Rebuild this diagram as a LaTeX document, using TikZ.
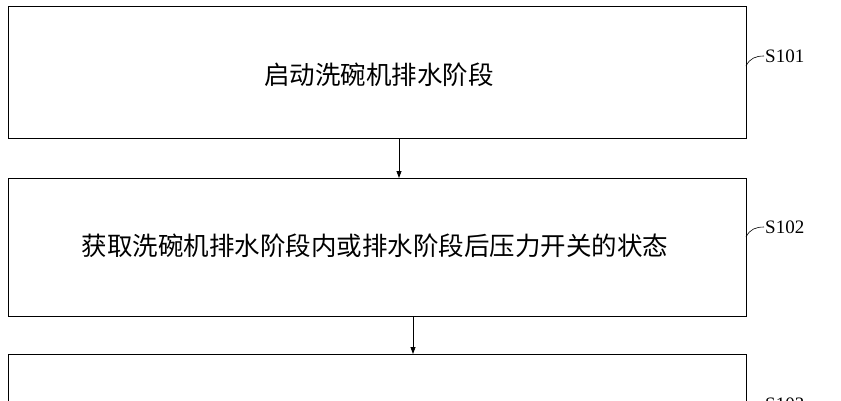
\documentclass[tikz,border=0pt]{standalone}
\usepackage{fontspec}
\setmainfont{Liberation Serif}
\newfontfamily\cjk{Noto Sans CJK SC}
\usetikzlibrary{arrows.meta}
\begin{document}
\begin{tikzpicture}[x=1pt,y=1pt,
  box/.style={draw,line width=0.8pt,minimum width=738pt,anchor=north west,inner sep=0},
  txt/.style={font=\cjk\fontsize{25.5}{29}\selectfont},
  lab/.style={font=\fontsize{19}{21}\selectfont,anchor=west,inner sep=1pt},
  arr/.style={-{Triangle[length=7pt,width=5pt]},line width=0.8pt}]
\useasboundingbox (0,0) rectangle (841,-400);
\clip (0,0) rectangle (841,-400);
\node[box,minimum height=132pt] (b1) at (8,-6) {};
\node[box,minimum height=138pt] (b2) at (8,-178) {};
\node[box,minimum height=80pt] (b3) at (8,-354) {};
\node[txt] (t1) at (379,-75) {启动洗碗机排水阶段};
\node[txt] (t2) at (375,-246) {获取洗碗机排水阶段内或排水阶段后压力开关的状态};
\draw[arr] (b1.south -| 399,0) -- (b2.north -| 399,0);
\draw[arr] (b2.south -| 413,0) -- (b3.north -| 413,0);
\node[lab] (s1) at (764,-56) {S101};
\node[lab] (s2) at (764,-227) {S102};
\node[lab] (s3) at (764,-404) {S103};
\draw[line width=0.6pt] (746,-66) .. controls (750,-58) and (756,-56) .. (s1.west);
\draw[line width=0.6pt] (746,-237) .. controls (750,-229) and (756,-227) .. (s2.west);
\draw[line width=0.6pt] (746,-414) .. controls (750,-406) and (756,-404) .. (s3.west);
\end{tikzpicture}
\end{document}
